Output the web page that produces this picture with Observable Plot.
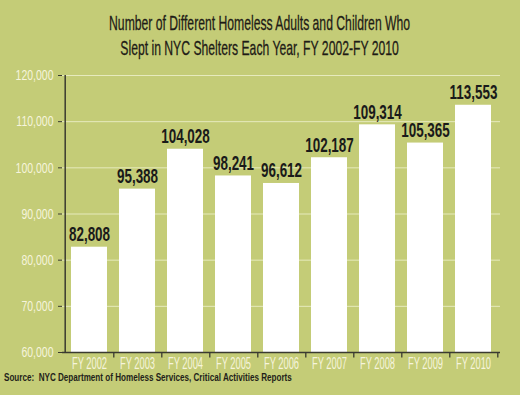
<!DOCTYPE html>
<html>
<head>
<meta charset="utf-8">
<script src="https://cdn.jsdelivr.net/npm/d3@7"></script>
<script src="https://cdn.jsdelivr.net/npm/@observablehq/plot@0.6"></script>
<style>
  html, body { margin: 0; padding: 0; }
  body { width: 520px; height: 395px; overflow: hidden; }
  #wrap { position: relative; width: 520px; height: 395px; background: #c4cc77; }
  #title {
    position: absolute; left: 0; top: 10px; width: 520px; text-align: center;
    font-family: "Liberation Sans", Arial, sans-serif;
    font-size: 21px; line-height: 25px; color: #1e1b16;
    transform: scaleX(0.58); transform-origin: 259px 0;
    -webkit-text-stroke: 0.3px #1e1b16;
  }
  #chart { position: absolute; left: 0; top: 62px; }
  #source {
    position: absolute; left: 4px; top: 372px;
    font-family: "Liberation Sans", Arial, sans-serif; font-weight: bold;
    font-size: 10px; color: #231f1a; white-space: nowrap;
    transform: scaleX(0.81); transform-origin: 0 0;
  }
</style>
</head>
<body>
<div id="wrap">
  <div id="title">Number of Different Homeless Adults and Children Who<br>Slept in NYC Shelters Each Year, FY 2002-FY 2010</div>
  <div id="chart"></div>
  <div id="source">Source:&nbsp; NYC Department of Homeless Services, Critical Activities Reports</div>
</div>
<script>
const years = ["FY 2002","FY 2003","FY 2004","FY 2005","FY 2006","FY 2007","FY 2008","FY 2009","FY 2010"];
const counts = [82808, 95388, 104028, 98241, 96612, 102187, 109314, 105365, 113553];
const yTicks = [60000, 70000, 80000, 90000, 100000, 110000, 120000];

const data = years.map((y, i) => ({year: y, count: counts[i]}));
const fmt = d3.format(",");
const font = "'Liberation Sans', Arial, sans-serif";

const chart = Plot.plot({
  width: 520,
  height: 308,
  marginTop: 13,
  marginLeft: 62,
  marginRight: 20,
  marginBottom: 18,
  style: {background: "transparent", fontFamily: font, overflow: "visible"},
  x: {domain: years, paddingInner: 0.24, paddingOuter: 0.125, label: null},
  y: {domain: [60000, 120000], label: null},
  marks: [
    Plot.gridY(yTicks.slice(1), {stroke: "#e6eabd", strokeOpacity: 1, strokeWidth: 1}),
    Plot.barY(data, {x: "year", y1: 60000, y2: "count", fill: "#ffffff"}),
    Plot.text(data, {x: "year", y: "count", text: d => fmt(d.count), dy: -6, lineAnchor: "bottom",
      fontSize: 21, fontWeight: "bold", fill: "#1a1a1a"}),
    Plot.axisY(yTicks, {tickFormat: fmt, tickSize: 4, tickPadding: 5, stroke: "#3a3a30",
      fill: "#f6f4dc", fontSize: 15, label: null}),
    Plot.axisX({tickSize: 0, tickPadding: 4, fill: "#f6f4dc", fontSize: 17, label: null}),
    Plot.ruleX(years, {x: d => d, dx: 24.3, y1: 60000, y2: 58800, stroke: "#3a3a30", strokeWidth: 1.3}),
    Plot.ruleY([60000], {stroke: "#3a3a30", strokeWidth: 1.5}),
    Plot.ruleX([years[0]], {x: d => d, dx: -24.3, y1: 60000, y2: 120000, stroke: "#3a3a30", strokeWidth: 1.5})
  ]
});

// condense the text horizontally (the reference uses a very narrow typeface)
const squeeze = {"text": 0.64, "y-axis tick label": 0.7, "x-axis tick label": 0.55};
for (const [label, s] of Object.entries(squeeze)) {
  chart.querySelectorAll(`g[aria-label="${label}"] text`).forEach(t => {
    t.setAttribute("transform", (t.getAttribute("transform") || "") + ` scale(${s},1)`);
  });
}
document.getElementById("chart").appendChild(chart);
</script>
</body>
</html>
